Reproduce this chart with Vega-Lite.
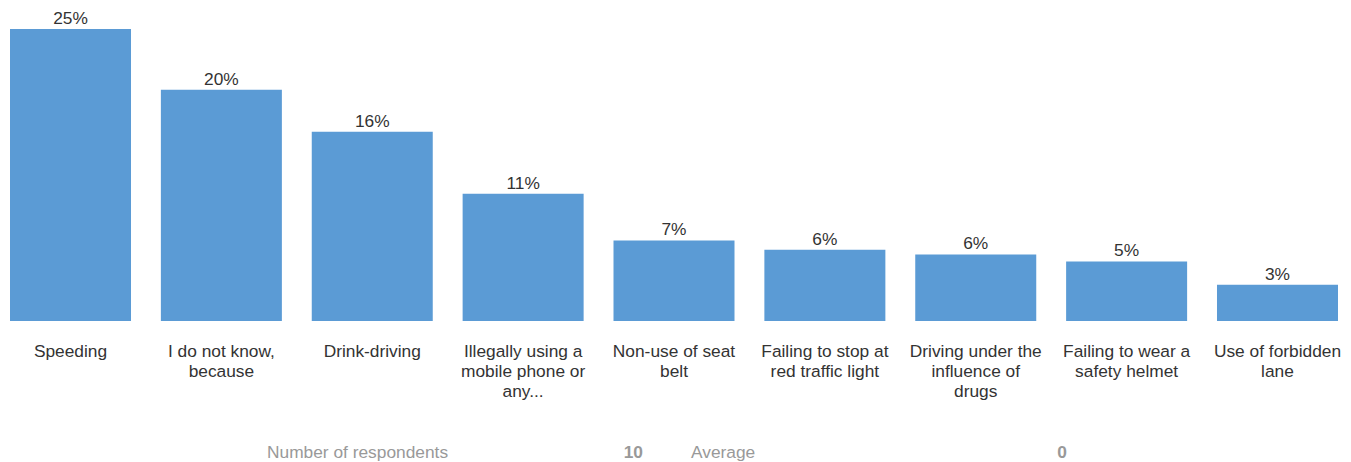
{
  "$schema": "https://vega.github.io/schema/vega-lite/v6.json",
  "padding": 0,
  "background": "white",
  "bounds": "flush",
  "spacing": 121,
  "config": {"view": {"stroke": null}, "font": "Liberation Sans"},
  "vconcat": [
    {
      "width": 1348,
      "height": 321,
      "data": {"values": [
        {"category": "Speeding", "share": 0.25},
        {"category": "I do not know,|because", "share": 0.198},
        {"category": "Drink-driving", "share": 0.162},
        {"category": "Illegally using a|mobile phone or|any...", "share": 0.109},
        {"category": "Non-use of seat|belt", "share": 0.069},
        {"category": "Failing to stop at|red traffic light", "share": 0.061},
        {"category": "Driving under the|influence of|drugs", "share": 0.057},
        {"category": "Failing to wear a|safety helmet", "share": 0.051},
        {"category": "Use of forbidden|lane", "share": 0.031}
      ]},
      "encoding": {
        "x": {
          "field": "category", "type": "nominal", "sort": null,
          "scale": {"paddingInner": 0.198, "paddingOuter": 0.0663},
          "axis": {
            "title": null, "domain": false, "ticks": false, "grid": false,
            "labelAngle": 0, "labelFontSize": 17.33, "labelColor": "#333333",
            "labelPadding": 21, "labelLineHeight": 20, "labelLimit": 300,
            "labelFont": "Liberation Sans",
            "labelExpr": "split(datum.value, '|')"
          }
        },
        "y": {"field": "share", "type": "quantitative", "scale": {"domain": [0, 0.27483], "nice": false}, "axis": null}
      },
      "layer": [
        {"mark": {"type": "bar", "color": "#5B9BD5"}},
        {
          "mark": {"type": "text", "baseline": "alphabetic", "dy": -5, "fontSize": 17.33, "color": "#333333"},
          "encoding": {"text": {"field": "share", "type": "quantitative", "format": ".0%"}}
        }
      ]
    },
    {
      "width": 1348,
      "height": 22,
      "data": {"values": [
        {"slot": "k1", "role": "label", "text": "Number of respondents"},
        {"slot": "v1", "role": "value", "text": "10"},
        {"slot": "k2", "role": "label", "text": "Average"},
        {"slot": "v2", "role": "value", "text": "0"}
      ]},
      "layer": [
        {
          "transform": [{"filter": "datum.role === 'label'"}],
          "mark": {"type": "text", "align": "left", "fontSize": 17.33, "color": "#999999"},
          "encoding": {
            "x": {"field": "slot", "type": "nominal", "bandPosition": 0,
              "scale": {"domain": ["k1", "v1", "k2", "v2"], "type": "band", "paddingInner": 0.2264, "paddingOuter": 0, "range": [267, 1067]},
              "axis": null},
            "text": {"field": "text"}
          }
        },
        {
          "transform": [{"filter": "datum.role === 'value'"}],
          "mark": {"type": "text", "align": "right", "fontSize": 17.33, "fontWeight": "bold", "color": "#999999"},
          "encoding": {
            "x": {"field": "slot", "type": "nominal", "bandPosition": 1,
              "scale": {"domain": ["k1", "v1", "k2", "v2"], "type": "band", "paddingInner": 0.2264, "paddingOuter": 0, "range": [267, 1067]},
              "axis": null},
            "text": {"field": "text"}
          }
        }
      ]
    }
  ]
}
